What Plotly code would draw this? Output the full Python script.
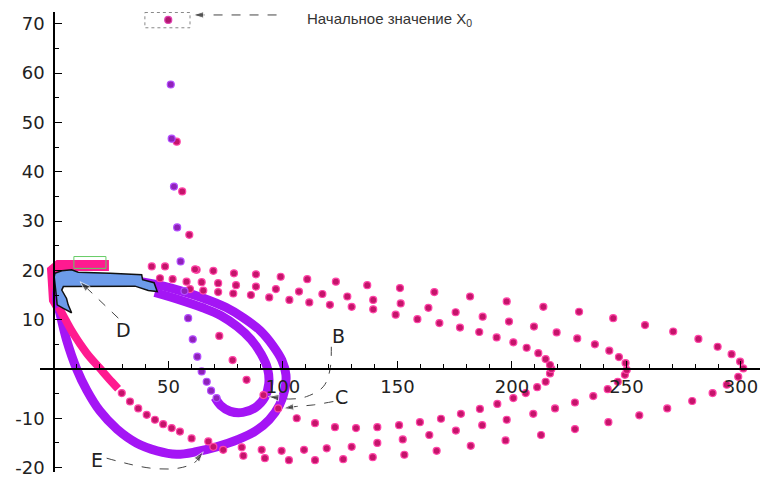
import plotly.graph_objects as go

# ---- phase portrait data (x, y) ----
x0_point = ([49.9], [70.8])

# purple trajectory leaving the initial point
purple_drop_x = [51.0, 51.4, 52.4, 53.8, 55.3, 57.0, 58.6, 60.6, 62.6, 64.5, 66.7, 68.6, 71.0]
purple_drop_y = [57.7, 46.7, 37.0, 28.7, 21.8, 15.8, 10.3, 6.0, 2.5, -0.5, -2.6, -4.4, -5.9]

# pink trajectory leaving the initial point, first (smallest) orbit
pink1_x = [53.6, 56.0, 59.1, 62.3, 72.2, 78.0, 84.1, 91.5, 97.9, 106.0, 114.0, 122.7, 131.9,
           141.2, 150.7, 159.8, 169.0, 177.7, 186.0, 193.6, 200.6, 206.0, 211.0, 214.7,
           216.6, 217.2, 216.6, 214.7, 211.5, 206.4, 200.6, 193.3, 185.7, 177.3, 168.3,
           158.7, 149.2, 139.4, 130.0, 120.5, 111.5, 102.8, 94.0, 86.0, 78.3, 71.7, 65.2, 59.4]
pink1_y = [46.1, 36.0, 27.2, 20.1, 6.7, 1.8, -2.2, -5.3, -8.0, -10.0, -11.0, -11.8, -12.0,
           -11.8, -11.4, -10.8, -10.1, -9.1, -8.1, -7.1, -5.9, -4.9, -3.7, -2.6,
           -0.9, 0.0, 0.8, 2.0, 3.2, 4.3, 5.4, 6.4, 7.5, 8.4, 9.3,
           10.1, 11.0, 12.1, 12.6, 13.0, 13.5, 14.0, 14.5, 15.0, 15.3, 15.6, 15.9, 16.2]

# second orbit
pink2_x = [29.6, 33.2, 36.8, 40.5, 44.1, 47.7, 51.4, 55.0, 60.1, 67.4, 73.9, 82.0, 90.7, 99.4,
           109.2, 119.1, 130.0, 141.2, 152.3, 163.9, 175.5, 187.0, 197.7, 209.3, 218.8,
           227.5, 235.5, 241.8, 246.2, 249.3, 250.1, 249.6, 246.7, 242.5, 236.2, 228.5,
           219.5, 209.6, 198.7, 187.2, 175.4, 163.5, 151.4, 139.4, 128.1, 117.2, 107.0,
           96.9, 88.2, 79.5, 71.7, 64.5, 57.9, 51.8, 46.3]
pink2_y = [-4.9, -6.6, -8.0, -9.3, -10.3, -11.2, -12.0, -12.7, -14.1, -14.7, -16.4, -15.9, -16.4, -16.6,
           -16.4, -16.1, -15.8, -15.0, -14.3, -13.4, -12.5, -11.4, -10.3, -9.1, -8.0,
           -6.8, -5.5, -4.1, -2.6, -1.2, -0.2, 1.2, 2.4, 3.7, 5.0, 6.2,
           7.4, 8.6, 9.6, 10.6, 11.5, 12.4, 13.3, 14.0, 14.7, 15.2, 15.7,
           16.2, 16.7, 17.0, 17.4, 17.6, 17.7, 18.2, 18.4]

# third (largest) orbit
pink3_x = [69.6, 82.7, 92.1, 102.6, 114.0, 126.3, 139.2, 153.0, 167.1, 182.0, 197.2, 212.7,
           227.5, 242.1, 255.6, 267.8, 278.7, 287.6, 293.8, 298.8, 301.0, 299.6, 295.9,
           289.8, 281.4, 270.4, 258.1, 244.2, 229.3, 213.7, 197.7, 181.7, 166.1, 151.1,
           136.8, 123.1, 110.6, 99.0, 88.2, 78.6, 69.6, 61.6, 48.5, 42.7]
pink3_y = [-15.8, -17.6, -18.1, -18.5, -18.5, -18.3, -17.9, -17.4, -16.6, -15.6, -14.5, -13.4,
           -12.2, -10.8, -9.4, -8.0, -6.5, -4.9, -3.2, -1.6, 0.1, 1.5, 3.0,
           4.5, 6.1, 7.6, 8.9, 10.3, 11.6, 12.6, 13.7, 14.7, 15.6, 16.4,
           17.0, 17.7, 18.2, 18.7, 19.2, 19.4, 19.9, 20.2, 20.8, 20.8]

# dense pink part of the trajectory near the origin
pink_core_x = [24.0, 12.0, 2.0, -0.6, -0.8, 0.2, 2.0]
pink_core_y = [21.0, 21.1, 21.0, 20.0, 16.5, 14.0, 12.6]
pink_band_x = [2.0, 5.0, 8.4, 14.3, 20.1, 25.2, 28.0]
pink_band_y = [12.6, 10.0, 7.2, 3.2, 0.1, -2.6, -4.0]

# limit cycle (outer, C / E) and inner loop (B)
outer_x = [44.0, 55.0, 65.0, 75.0, 83.0, 90.0, 95.5, 99.5, 101.3, 100.8, 98.5, 94.0, 88.0,
           80.5, 71.0, 62.0, 53.5, 45.0, 36.0, 27.5, 20.0, 14.3, 9.9, 5.5, 2.6, 1.2, 2.0,
           6.0, 20.0, 35.0, 44.0]
outer_y = [17.2, 15.9, 14.4, 12.5, 10.3, 7.8, 4.8, 1.8, -1.2, -4.2, -7.3, -10.3, -12.6,
           -14.3, -15.8, -16.8, -17.3, -16.6, -15.0, -12.2, -8.5, -4.3, 0.0, 5.9, 11.3, 14.0,
           16.8, 18.2, 18.3, 17.9, 17.2]
inner_x = [44.0, 55.0, 65.0, 73.0, 80.0, 86.0, 90.5, 93.3, 93.8, 92.0, 88.0, 82.5, 77.0,
           72.8, 70.3]
inner_y = [15.5, 14.0, 12.4, 10.8, 8.6, 6.0, 3.0, 0.0, -3.0, -5.8, -7.8, -8.8, -8.6,
           -7.4, -5.8]

# region D (filled polygon)
region_x = [0.4, 3.4, 7.7, 10.6, 24.5, 38.3, 38.7, 43.7, 45.1, 41.2, 35.4, 4.1, 3.4, 5.5,
            6.2, 7.7, 4.1, 1.4, 0.9, 0.1, 0.4]
region_y = [19.4, 19.9, 20.1, 19.6, 19.4, 19.1, 18.1, 17.5, 15.7, 15.9, 16.8, 16.7, 16.0, 14.3,
            13.0, 11.4, 12.3, 13.0, 15.4, 18.7, 19.4]

# annotation geometry (data units)
box_x0 = [39.7, 59.4, 72.3, 69.2]
box_green = [8.7, 22.7, 22.8, 20.4]
arrow_B = ([121.1, 120.5, 117.6, 110.3, 103.1, 93.6], [4.5, -0.2, -3.6, -5.6, -6.1, -5.6])
arrow_C = ([122.0, 113.2, 106.0, 100.1], [-6.6, -7.3, -7.6, -8.0])
arrow_D = ([28.1, 11.4], [10.3, 17.7])
arrow_E = ([23.0, 41.9, 54.6, 61.6, 65.2], [-18.1, -20.1, -20.1, -18.9, -16.8])
arrow_X0 = ([97.2, 60.8], [71.8, 71.8])
labels = {"B": (124.1, 6.6), "C": (125.6, -5.6), "D": (30.3, 7.9), "E": (18.6, -18.5)}

x_ticks = [50, 100, 150, 200, 250, 300]
y_ticks = [-20, -10, 10, 20, 30, 40, 50, 60, 70]

PURPLE = "#a415f5"
PINK = "#ff1a90"
DOT = "#c4146a"
DOT_EDGE = "#ff45a8"
VIOLET_DOT = "#8e22b8"

fig = go.Figure()

fig.add_trace(go.Scatter(x=pink_core_x, y=pink_core_y, mode="lines",
                         line=dict(color=PINK, width=11), hoverinfo="skip"))
fig.add_trace(go.Scatter(x=outer_x, y=outer_y, mode="lines",
                         line=dict(color=PURPLE, width=9, shape="spline"), hoverinfo="skip"))
fig.add_trace(go.Scatter(x=inner_x, y=inner_y, mode="lines",
                         line=dict(color=PURPLE, width=9, shape="spline"), hoverinfo="skip"))
fig.add_trace(go.Scatter(x=pink_band_x, y=pink_band_y, mode="lines",
                         line=dict(color=PINK, width=8, shape="spline"), hoverinfo="skip"))

for xs, ys in [(pink1_x, pink1_y), (pink2_x, pink2_y), (pink3_x, pink3_y)]:
    fig.add_trace(go.Scatter(x=xs, y=ys, mode="markers",
                             marker=dict(size=7, color=DOT, line=dict(color=DOT_EDGE, width=1.2))))
fig.add_trace(go.Scatter(x=purple_drop_x, y=purple_drop_y, mode="markers",
                         marker=dict(size=7, color=VIOLET_DOT, line=dict(color="#b44cff", width=1.2))))
fig.add_trace(go.Scatter(x=x0_point[0], y=x0_point[1], mode="markers",
                         marker=dict(size=7, color="#b0186e", line=dict(color="#e040b0", width=1.2))))

fig.add_trace(go.Scatter(x=region_x, y=region_y, mode="lines", fill="toself",
                         fillcolor="#6c9bea", line=dict(color="#111111", width=1.5)))

# dashed pointer curves, arrowhead oriented along the last segment
for xs, ys in [arrow_B, arrow_C, arrow_D, arrow_E, arrow_X0]:
    fig.add_trace(go.Scatter(x=xs, y=ys, mode="lines",
                             line=dict(color="#444444", width=1, dash="dash", shape="spline")))
    fig.add_trace(go.Scatter(x=xs[-2:], y=ys[-2:], mode="markers",
                             marker=dict(symbol="arrow", angleref="previous",
                                         size=[0, 11], color="#333333")))

for name, (lx, ly) in labels.items():
    fig.add_annotation(x=lx, y=ly, text=name, showarrow=False,
                       font=dict(family="DejaVu Sans", size=19, color="#222222"))

fig.add_annotation(x=109.6, y=70.8, text="Начальное значение X<sub>0</sub>", showarrow=False,
                   xanchor="left", font=dict(family="Liberation Sans", size=15, color="#333333"))

fig.add_shape(type="rect", x0=box_x0[0], x1=box_x0[1], y0=box_x0[2], y1=box_x0[3],
              line=dict(color="#888888", width=1, dash="dot"))
fig.add_shape(type="rect", x0=box_green[0], x1=box_green[1], y0=box_green[2], y1=box_green[3],
              line=dict(color="#66cc66", width=1))

x_min, x_max = -6.1, 308.3
y_min, y_max = -20.9, 72.4

fig.update_layout(
    width=761, height=481, showlegend=False,
    margin=dict(l=40, r=1, t=12, b=9),
    plot_bgcolor="white", paper_bgcolor="white",
    font=dict(family="DejaVu Sans", size=18, color="#222222"),
    xaxis=dict(range=[x_min, x_max], showgrid=False, zeroline=False,
               anchor="free", position=(0 - y_min) / (y_max - y_min),
               showline=True, linecolor="black", linewidth=1.5,
               tickmode="array", tickvals=x_ticks, ticktext=[str(v) for v in x_ticks],
               ticks="inside", ticklen=7, tickcolor="black", tickwidth=1.2,
               ticklabelstandoff=2,
               minor=dict(tickmode="linear", tick0=0, dtick=10, ticks="inside",
                          ticklen=4, tickcolor="black")),
    yaxis=dict(range=[y_min, y_max], showgrid=False, zeroline=False,
               anchor="free", position=(0 - x_min) / (x_max - x_min),
               showline=True, linecolor="black", linewidth=1.5,
               tickmode="array", tickvals=y_ticks, ticktext=[str(v) for v in y_ticks],
               ticks="inside", ticklen=7, tickcolor="black", tickwidth=1.2,
               ticklabelstandoff=5,
               minor=dict(tickmode="linear", tick0=0, dtick=5, ticks="inside",
                          ticklen=4, tickcolor="black")),
)

fig.write_html("out.html")
